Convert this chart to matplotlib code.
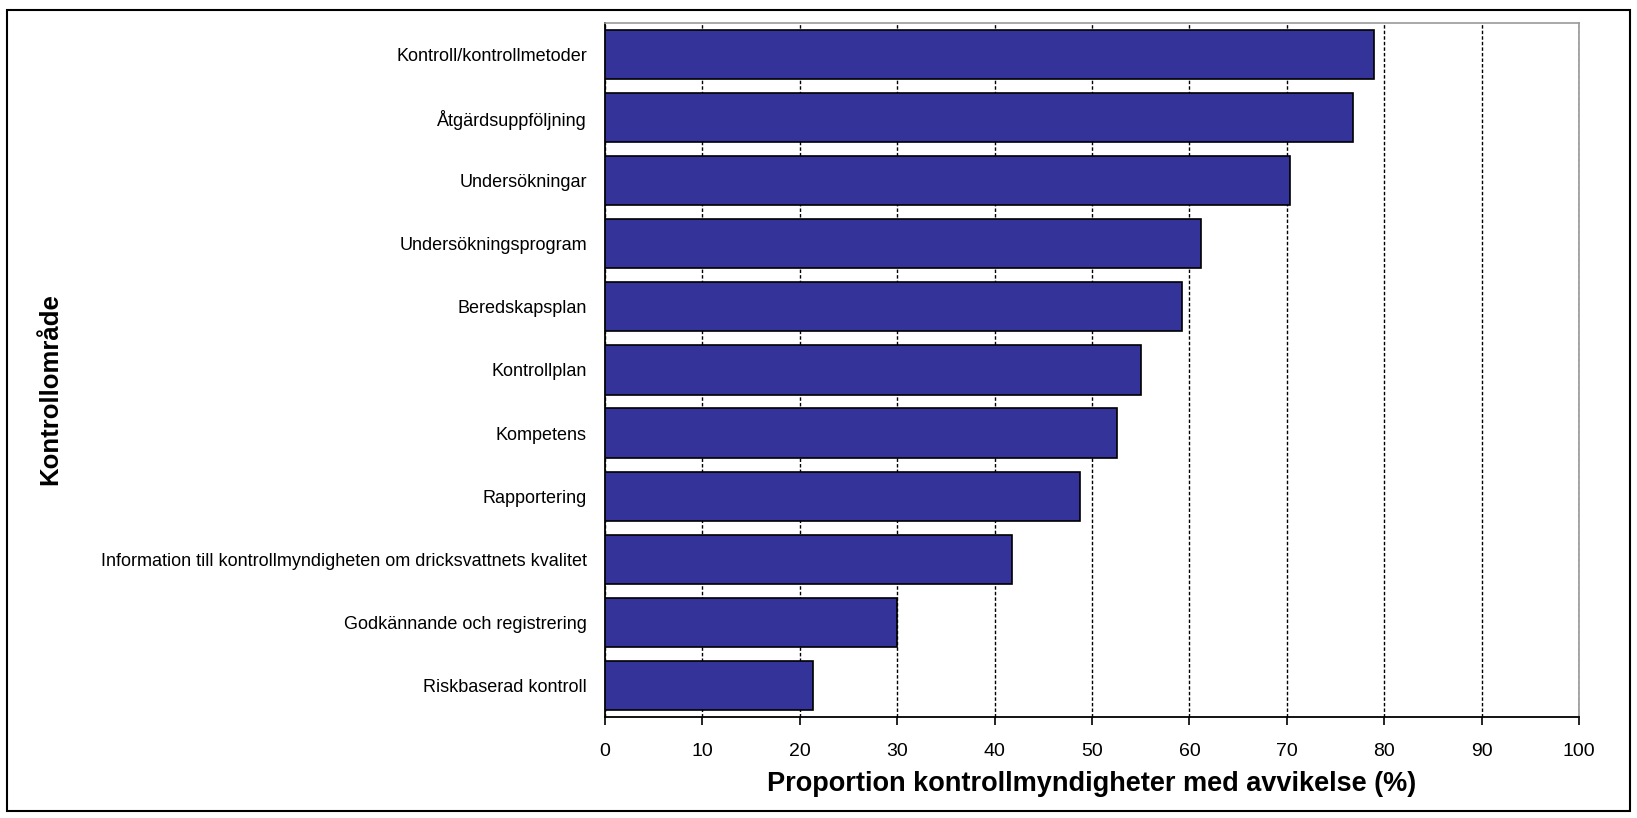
import matplotlib
matplotlib.use("Agg")
import matplotlib.pyplot as plt
from matplotlib.patches import Rectangle

# Data (top to bottom as in the chart)
categories = [
    "Kontroll/kontrollmetoder",
    "Åtgärdsuppföljning",
    "Undersökningar",
    "Undersökningsprogram",
    "Beredskapsplan",
    "Kontrollplan",
    "Kompetens",
    "Rapportering",
    "Information till kontrollmyndigheten om dricksvattnets kvalitet",
    "Godkännande och registrering",
    "Riskbaserad kontroll",
]
values = [78.9, 76.8, 70.3, 61.2, 59.2, 55.0, 52.6, 48.8, 41.8, 30.0, 21.3]
x_ticks = list(range(0, 101, 10))

plt.rcParams['font.family'] = ['Liberation Sans', 'DejaVu Sans']

fig = plt.figure(figsize=(16.37, 8.18), dpi=100)
ax = fig.add_axes([0.3696, 0.1235, 0.595, 0.8485])

y_pos = list(range(len(categories)))
ax.barh(y_pos, values, height=0.78, color='#333399', edgecolor='black', linewidth=1.2, zorder=3)

ax.set_ylim(len(categories) - 0.5, -0.5)
ax.set_xlim(0, 100)
ax.set_xticks(x_ticks)
ax.set_xticklabels([str(t) for t in x_ticks], fontsize=14)
ax.set_yticks(y_pos)
ax.set_yticklabels(categories, fontsize=13)
ax.tick_params(axis='y', length=0, pad=13)
ax.tick_params(axis='x', length=6, width=1.2, direction='out', pad=13)

# gridlines
ax.xaxis.grid(True, linestyle=(0, (2.5, 1.5)), color='black', linewidth=1.0, zorder=0)
ax.set_axisbelow(True)

for side in ['top', 'right']:
    ax.spines[side].set_color('#999999')
    ax.spines[side].set_linewidth(1.2)
for side in ['left', 'bottom']:
    ax.spines[side].set_color('black')
    ax.spines[side].set_linewidth(1.3)

ax.set_xlabel('Proportion kontrollmyndigheter med avvikelse (%)', fontsize=19.5, fontweight='bold', labelpad=8)
fig.text(0.0306, 0.524, 'Kontrollområde', rotation=90, fontsize=18.5, fontweight='bold',
         ha='center', va='center')

# outer frame
fig.patches.append(Rectangle((0.0045, 0.009), 0.991, 0.979, transform=fig.transFigure,
                             fill=False, edgecolor='black', linewidth=1.5))

fig.savefig('out.png', dpi=100)
